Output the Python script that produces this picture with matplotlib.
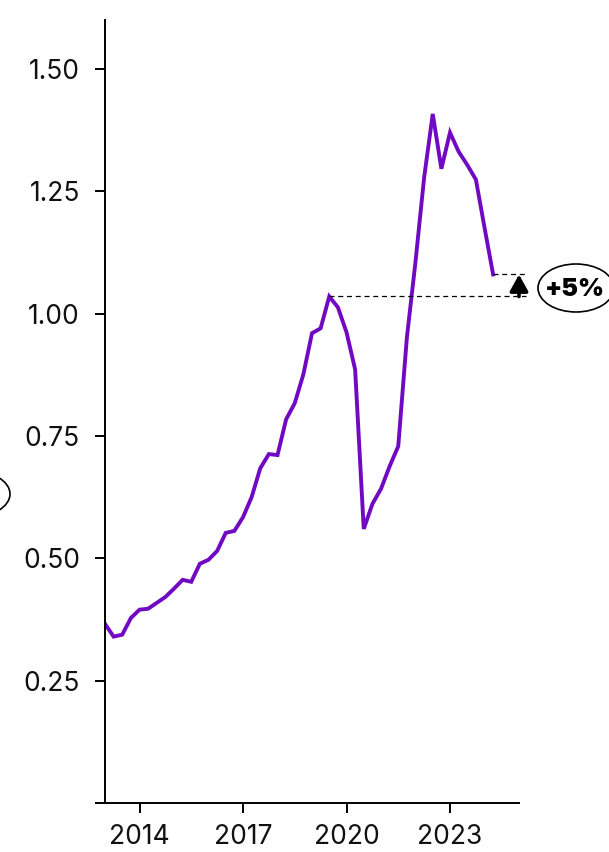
import matplotlib
matplotlib.use("Agg")
import matplotlib.pyplot as plt
from matplotlib.patches import Ellipse
import pandas as pd

# quarterly series, 2013Q1 .. 2024Q2
quarters = pd.period_range("2013Q1", "2024Q2", freq="Q")
values = [0.366, 0.340, 0.344, 0.378, 0.395, 0.397, 0.409, 0.421,
          0.438, 0.456, 0.452, 0.489, 0.497, 0.515, 0.552, 0.556,
          0.584, 0.625, 0.684, 0.713, 0.711, 0.784, 0.817, 0.876,
          0.960, 0.970, 1.035, 1.013, 0.962, 0.886, 0.560, 0.611,
          0.642, 0.688, 0.729, 0.951, 1.106, 1.278, 1.408, 1.296,
          1.370, 1.331, 1.304, 1.274, 1.176, 1.080]
peak_index = 26
year_ticks = [2014, 2017, 2020, 2023]
y_ticks = [0, 0.25, 0.5, 0.75, 1.0, 1.25, 1.5]
y_labels = ["", "0.25", "0.50", "0.75", "1.00", "1.25", "1.50"]
change_label = "+5%"

plt.rcParams['font.family'] = ['Inter', 'DejaVu Sans']

x = quarters.year + (quarters.quarter - 1) / 4

fig = plt.figure(figsize=(6.09, 8.52), dpi=100)
ax = fig.add_axes([105/609, 1 - 803/852, 414/609, 783/852])

ax.plot(x, values, color="#7209c2", lw=2.8, solid_joinstyle="miter")

# dashed reference lines: pre-covid peak and latest value
x_end = 2025.2
ax.plot([x[peak_index], x_end], [values[peak_index]] * 2, color="black",
        lw=0.9, ls=(0, (4, 3)), clip_on=False)
ax.plot([x[-1], x_end], [values[-1]] * 2, color="black",
        lw=0.9, ls=(0, (4, 3)), clip_on=False)
ax.annotate("", xy=(2025.0, values[-1]), xytext=(2025.0, values[peak_index]),
            arrowprops=dict(arrowstyle="-|>,head_width=0.55,head_length=1.0",
                            color="black", lw=2.6, shrinkA=0, shrinkB=0),
            annotation_clip=False)

ax.set_xlim(2013, 2025)
ax.set_ylim(0, 1.6)
ax.set_xticks(year_ticks)
ax.set_xticklabels([str(y) for y in year_ticks])
ax.set_yticks(y_ticks)
ax.set_yticklabels(y_labels)
ax.tick_params(axis="both", labelsize=19, length=7, width=1.4,
               colors="black", labelcolor="#111111")
ax.tick_params(axis="y", pad=11)
ax.tick_params(axis="x", pad=8)
for s in ["top", "right"]:
    ax.spines[s].set_visible(False)
for s in ["left", "bottom"]:
    ax.spines[s].set_linewidth(1.4)

# bubbles
fig.patches.append(Ellipse((576/609, 1 - 288/852), 76/609, 48/852,
                           transform=fig.transFigure, fc="white", ec="black", lw=1.2))
fig.text(575/609, 1 - 289/852, change_label, ha="center", va="center",
         fontsize=18, fontweight="black", color="black")
fig.patches.append(Ellipse((-30/609, 1 - 494/852), 80/609, 47/852,
                           transform=fig.transFigure, fc="white", ec="black", lw=1.2))

fig.savefig("out.png", dpi=100)
